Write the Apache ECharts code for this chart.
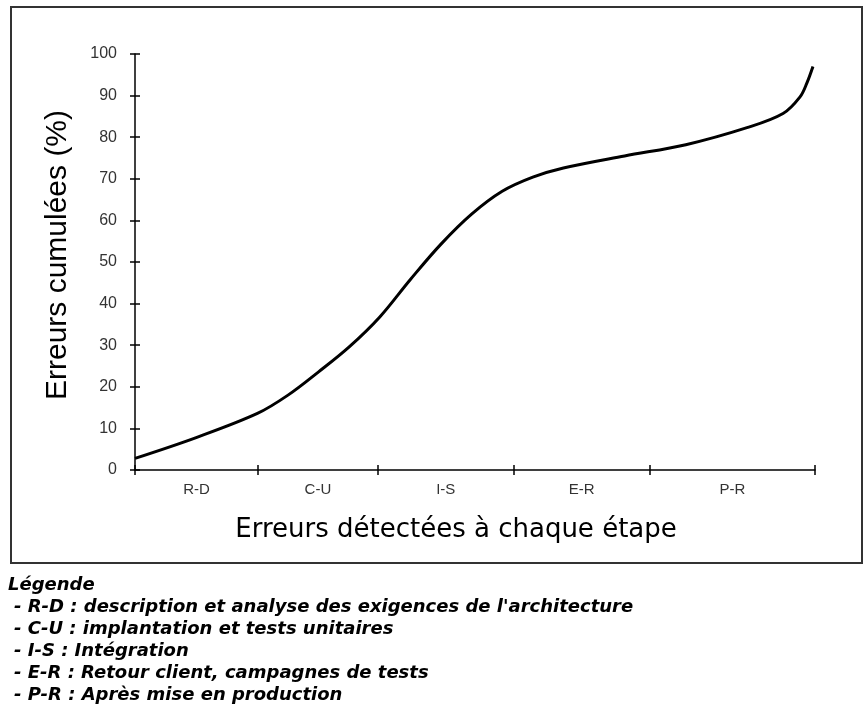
<!DOCTYPE html>
<html>
<head>
<meta charset="utf-8">
<script src="https://cdn.jsdelivr.net/npm/echarts@6/dist/echarts.min.js"></script>
<style>
html,body{margin:0;padding:0;background:#fff;}
#chart{width:864px;height:708px;}
</style>
</head>
<body>
<div id="chart"></div>
<script>
// Stage names and their boundaries along the process (0..100 % of the process span)
const stages = ['R-D', 'C-U', 'I-S', 'E-R', 'P-R'];
const stageBounds = [0, 18.1, 35.7, 55.7, 75.7, 100];
// Cumulative errors curve (x = position along process, y = % cumulative errors)
const curveX = [0, 9, 18, 22.5, 27, 31.5, 36, 40.5, 45, 49.5, 54, 58.5, 63, 72, 81, 90, 95.3, 97.8, 98.8, 99.7];
const curveY = [2.8, 7.8, 13.6, 18, 23.6, 29.6, 36.8, 45.8, 54.3, 61.5, 67, 70.4, 72.6, 75.5, 78.2, 82.3, 85.7, 89.7, 93, 97];
const yTicks = [0, 10, 20, 30, 40, 50, 60, 70, 80, 90, 100];
const xTitle = 'Erreurs détectées à chaque étape';
const yTitle = 'Erreurs cumulées (%)';
const legendTitle = 'Légende';
const legendLines = [
  '- R-D : description et analyse des exigences de l\'architecture',
  '- C-U : implantation et tests unitaires',
  '- I-S : Intégration',
  '- E-R : Retour client, campagnes de tests',
  '- P-R : Après mise en production'
];

const mids = stages.map((s, i) => (stageBounds[i] + stageBounds[i + 1]) / 2);
const data = curveX.map((x, i) => [x, curveY[i]]);

const chart = echarts.init(document.getElementById('chart'), null, {renderer: 'canvas'});

const graphics = [
  {type: 'rect', shape: {x: 11, y: 7, width: 851, height: 556},
   style: {fill: 'none', stroke: '#333', lineWidth: 2}, z: 10},
  {type: 'text', x: 456, y: 530,
   style: {text: xTitle, font: '26px "DejaVu Sans"', fill: '#000', align: 'center', verticalAlign: 'middle'}},
  {type: 'text', x: 58, y: 255, rotation: Math.PI / 2,
   style: {text: yTitle, font: '30px "Liberation Sans"', fill: '#000', align: 'center', verticalAlign: 'middle'}},
  {type: 'text', x: 8, y: 585,
   style: {text: legendTitle, font: 'italic bold 18px "DejaVu Sans"', fill: '#000', verticalAlign: 'middle'}}
];
legendLines.forEach((t, i) => {
  graphics.push({type: 'text', x: 14, y: 607 + i * 22,
    style: {text: t, font: 'italic bold 18px "DejaVu Sans"', fill: '#000', verticalAlign: 'middle'}});
});

const labelFmt = v => {
  let best = 0;
  mids.forEach((m, i) => { if (Math.abs(m - v) < Math.abs(mids[best] - v)) best = i; });
  return stages[best];
};

chart.setOption({
  animation: false,
  backgroundColor: '#fff',
  grid: {left: 135, right: 49, top: 54, bottom: 238},
  xAxis: [
    {type: 'value', min: 0, max: 100,
     axisLine: {show: true, lineStyle: {color: '#000', width: 1.5}},
     axisTick: {show: true, length: 5, lineStyle: {color: '#000', width: 1.5}, customValues: stageBounds},
     axisLabel: {show: true, customValues: mids, formatter: labelFmt, margin: 12,
                 fontFamily: 'Liberation Sans', fontSize: 15, color: '#333'},
     splitLine: {show: false}},
    {type: 'value', min: 0, max: 100, position: 'bottom',
     axisLine: {show: false},
     axisTick: {show: true, inside: true, length: 5, lineStyle: {color: '#000', width: 1.5}, customValues: stageBounds},
     axisLabel: {show: false},
     splitLine: {show: false}}
  ],
  yAxis: [
    {type: 'value', min: 0, max: 100, interval: 10,
     axisLine: {show: true, lineStyle: {color: '#000', width: 1.5}},
     axisTick: {show: true, length: 5, lineStyle: {color: '#000', width: 1.5}},
     axisLabel: {show: true, margin: 18, fontFamily: 'Liberation Sans', fontSize: 16, color: '#333',
                 customValues: yTicks},
     splitLine: {show: false}},
    {type: 'value', min: 0, max: 100, interval: 10, position: 'left',
     axisLine: {show: false},
     axisTick: {show: true, inside: true, length: 5, lineStyle: {color: '#000', width: 1.5}},
     axisLabel: {show: false},
     splitLine: {show: false}}
  ],
  series: [{
    type: 'line', data: data, xAxisIndex: 0, yAxisIndex: 0,
    smooth: 0.35, showSymbol: false, symbol: 'none',
    lineStyle: {color: '#000', width: 3}
  }],
  graphic: graphics
});
</script>
</body>
</html>
